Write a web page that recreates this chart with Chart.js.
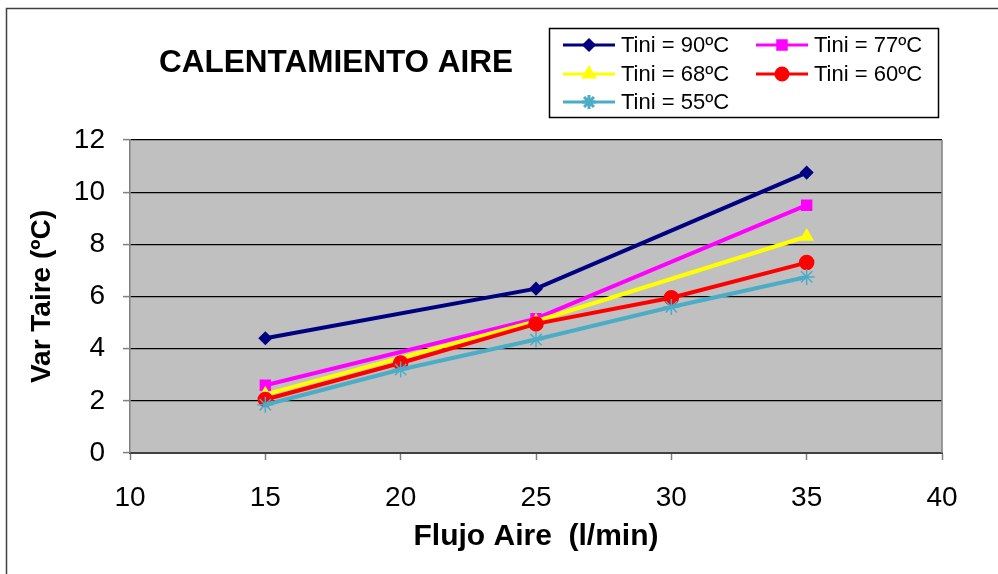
<!DOCTYPE html>
<html>
<head>
<meta charset="utf-8">
<script src="https://cdn.jsdelivr.net/npm/chart.js@4.4.1/dist/chart.umd.min.js"></script>
<style>
  html, body { margin: 0; padding: 0; background: #fff; }
  #wrap { width: 998px; height: 574px; position: relative; }
</style>
</head>
<body>
<div id="wrap"><canvas id="chart" width="998" height="574"></canvas></div>
<script>
// Flujo de aire (l/min) y variacion de temperatura del aire (ºC)
const flujo3 = [15, 25, 35];
const flujo5 = [15, 20, 25, 30, 35];
const tini90 = [4.4, 6.3, 10.75];
const tini77 = [2.6, 5.15, 9.5];
const tini68 = [2.25, 5.05, 8.3];
const tini60 = [2.05, 3.45, 4.95, 5.95, 7.3];
const tini55 = [1.85, 3.2, 4.35, 5.6, 6.75];

const xTicks = [10, 15, 20, 25, 30, 35, 40];
const yTicks = [0, 2, 4, 6, 8, 10, 12];

const seriesLabels = ['Tini = 90ºC', 'Tini = 77ºC', 'Tini = 68ºC', 'Tini = 60ºC', 'Tini = 55ºC'];
const seriesColors = ['#000080', '#ff00ff', '#ffff00', '#ff0000', '#4bacc6'];
const seriesPoints = ['rectRot', 'rect', 'triangle', 'circle', 'star'];
const seriesRadius = [6, 7, 7, 7, 8];

const toXY = (xs, ys) => xs.map((x, i) => ({ x: x, y: ys[i] }));
const seriesData = [
    toXY(flujo3, tini90),
    toXY(flujo3, tini77),
    toXY(flujo3, tini68),
    toXY(flujo5, tini60),
    toXY(flujo5, tini55)
];

const FONT = '"Liberation Sans", Arial, sans-serif';

// background, frame, title and the two-column legend
const decorPlugin = {
    id: 'decor',
    beforeDraw(chart) {
        const ctx = chart.ctx;
        const a = chart.chartArea;
        ctx.save();
        ctx.fillStyle = '#fff';
        ctx.fillRect(0, 0, chart.width, chart.height);
        ctx.strokeStyle = '#404040';
        ctx.lineWidth = 1.5;
        ctx.strokeRect(6.5, 8.5, 1010, 600);
        ctx.fillStyle = '#c0c0c0';
        ctx.fillRect(a.left, a.top, a.right - a.left, a.bottom - a.top);
        ctx.restore();
    },
    afterDraw(chart) {
        const ctx = chart.ctx;
        const a = chart.chartArea;
        ctx.save();
        // plot frame (right side)
        ctx.strokeStyle = '#808080';
        ctx.lineWidth = 1.5;
        ctx.beginPath();
        ctx.moveTo(a.right, a.top);
        ctx.lineTo(a.right, a.bottom);
        ctx.stroke();

        // title
        ctx.fillStyle = '#000';
        ctx.font = 'bold 31.5px ' + FONT;
        ctx.textAlign = 'left';
        ctx.textBaseline = 'middle';
        ctx.fillText('CALENTAMIENTO AIRE', 159, 63);

        // legend box
        ctx.fillStyle = '#fff';
        ctx.fillRect(549, 28, 389, 89);
        ctx.strokeStyle = '#000';
        ctx.lineWidth = 1.5;
        ctx.strokeRect(549.5, 28.5, 389, 89);

        const cols = [563, 756];
        const rows = [45, 74, 102];
        ctx.font = '22px ' + FONT;
        seriesLabels.forEach((lab, i) => {
            const x0 = cols[i % 2];
            const y0 = rows[Math.floor(i / 2)];
            ctx.strokeStyle = seriesColors[i];
            ctx.lineWidth = 3;
            ctx.beginPath();
            ctx.moveTo(x0, y0);
            ctx.lineTo(x0 + 52, y0);
            ctx.stroke();
            ctx.fillStyle = seriesColors[i];
            Chart.helpers.drawPoint(ctx, {
                pointStyle: seriesPoints[i],
                radius: seriesRadius[i] - 1,
                rotation: 0,
                borderWidth: 1.5
            }, x0 + 26, y0);
            ctx.fillStyle = '#000';
            ctx.textAlign = 'left';
            ctx.textBaseline = 'middle';
            ctx.fillText(lab, x0 + 58, y0 + 1);
        });
        ctx.restore();
    }
};

new Chart(document.getElementById('chart'), {
    type: 'line',
    data: {
        datasets: seriesData.map((d, i) => ({
            label: seriesLabels[i],
            data: d,
            borderColor: seriesColors[i],
            backgroundColor: seriesColors[i],
            pointStyle: seriesPoints[i],
            pointRadius: seriesRadius[i],
            pointBorderWidth: 1.5,
            borderWidth: 4,
            tension: 0,
            order: 5 - i
        }))
    },
    options: {
        responsive: false,
        animation: false,
        layout: { padding: { left: 0, right: 56, top: 140, bottom: 0 } },
        plugins: {
            legend: { display: false },
            tooltip: { enabled: false }
        },
        scales: {
            x: {
                type: 'linear',
                min: 10,
                max: 40,
                afterFit(scale) { scale.height = 121; },
                afterBuildTicks(scale) { scale.ticks = xTicks.map(v => ({ value: v })); },
                grid: { drawOnChartArea: false, drawTicks: true, tickLength: 7, tickColor: '#808080', tickWidth: 1.5 },
                border: { display: true, color: '#404040', width: 2 },
                ticks: { color: '#000', font: { family: FONT, size: 28 }, padding: 21, maxRotation: 0 },
                title: {
                    display: true,
                    text: 'Flujo Aire  (l/min)',
                    color: '#000',
                    font: { family: FONT, size: 30, weight: 'bold' },
                    padding: { top: 0, bottom: 19 }
                }
            },
            y: {
                min: 0,
                max: 12,
                afterFit(scale) { scale.width = 130; },
                afterBuildTicks(scale) { scale.ticks = yTicks.map(v => ({ value: v })); },
                grid: { color: '#000', lineWidth: 1.2, drawTicks: true, tickLength: 7, tickColor: '#808080', tickWidth: 1.5 },
                border: { display: true, color: '#808080', width: 1.5 },
                ticks: { color: '#000', font: { family: FONT, size: 28 }, padding: 18 },
                title: {
                    display: true,
                    text: 'Var Taire (ºC)',
                    color: '#000',
                    font: { family: FONT, size: 28, weight: 'bold' },
                    padding: { top: 25, bottom: 0 }
                }
            }
        }
    },
    plugins: [decorPlugin]
});
</script>
</body>
</html>
